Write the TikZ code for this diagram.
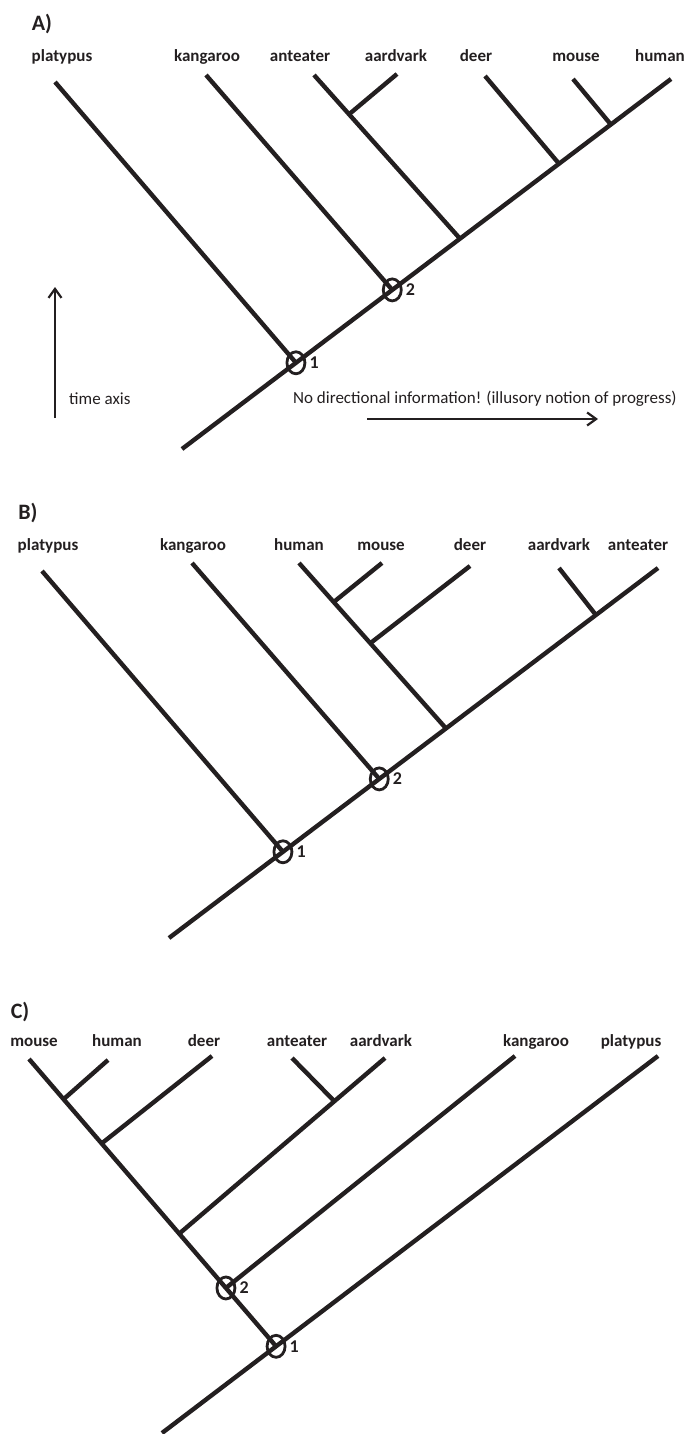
\documentclass[tikz,border=0pt]{standalone}
\usepackage{fontspec}
\setmainfont{Carlito}
\usepackage{tikz}
\usetikzlibrary{positioning, arrows.meta, shapes.geometric, calc}
\definecolor{treeInk}{RGB}{35,31,32}

\tikzset{
  branch/.style={line width=4.4pt, treeInk},
  taxon/.style={font=\bfseries\fontsize{17}{20}\selectfont, text=treeInk, inner sep=0pt, anchor=base},
  panel/.style={font=\bfseries\fontsize{22}{26}\selectfont, text=treeInk, inner sep=0pt},
  splitring/.style={ellipse, draw=treeInk, line width=2.8pt, minimum width=18pt, minimum height=22pt, inner sep=0pt},
  ringlbl/.style={font=\bfseries\fontsize{18}{20}\selectfont, text=treeInk, inner sep=0pt},
  note/.style={font=\fontsize{17}{20}\selectfont, text=treeInk, inner sep=0pt, anchor=west},
  axisarrow/.style={line width=2.2pt, treeInk, -{Straight Barb[length=9pt, width=13pt, line width=2.2pt]}}
}

\begin{document}
\begin{tikzpicture}[x=1pt, y=-1pt]
\useasboundingbox (0,0) rectangle (692,1434);

% ---------- A) ----------
\node[panel] (A-lbl) at (42,24) {A)};
\node[taxon] (A-platypus) at (62,62) {platypus};
\node[taxon] (A-kangaroo) at (207,62) {kangaroo};
\node[taxon] (A-anteater) at (300,62) {anteater};
\node[taxon] (A-aardvark) at (396,62) {aardvark};
\node[taxon] (A-deer) at (476,62) {deer};
\node[taxon] (A-mouse) at (576,62) {mouse};
\node[taxon] (A-human) at (660,62) {human};
% tips
\coordinate (A-t1) at (55,82);
\coordinate (A-t2) at (206,75);
\coordinate (A-t3) at (314,75);
\coordinate (A-t4) at (397,74);
\coordinate (A-t5) at (485,76);
\coordinate (A-t6) at (573,79);
\coordinate (A-t7) at (671,79);
\coordinate (A-root) at (182,449);
% splits along the stem
\coordinate (A-n1) at ($(A-root)!0.233!(A-t7)$);
\coordinate (A-n2) at ($(A-root)!0.43!(A-t7)$);
\coordinate (A-j1) at ($(A-root)!0.5685!(A-t7)$);
\coordinate (A-j2) at ($(A-root)!0.771!(A-t7)$);
\coordinate (A-j3) at ($(A-root)!0.877!(A-t7)$);
\coordinate (A-j4) at ($(A-t3)!0.24!(A-j1)$);
\draw[branch] (A-root) -- (A-t7);
\draw[branch] (A-t1) -- (A-n1);
\draw[branch] (A-t2) -- (A-n2);
\draw[branch] (A-t3) -- (A-j1);
\draw[branch] (A-t4) -- (A-j4);
\draw[branch] (A-t5) -- (A-j2);
\draw[branch] (A-t6) -- (A-j3);
\node[splitring] (A-r1) at (A-n1) {};
\node[splitring] (A-r2) at (A-n2) {};
\node[ringlbl, right=3pt of A-r1] (A-l1) {1};
\node[ringlbl, right=3pt of A-r2] (A-l2) {2};
% axes
\coordinate (time0) at (55,418);
\coordinate (time1) at (55,287);
\draw[axisarrow] (time0) -- (time1);
\node[note] (timetxt) at (69,399) {time axis};
\node[note] (progtxt) at (293,399) {No directional information! (illusory notion of progress)};
\coordinate (prog0) at (367,419);
\coordinate (prog1) at (598,419);
\draw[axisarrow] (prog0) -- (prog1);

% ---------- B) ----------
\node[panel] (B-lbl) at (28,513) {B)};
\node[taxon] (B-platypus) at (48,550) {platypus};
\node[taxon] (B-kangaroo) at (193,550) {kangaroo};
\node[taxon] (B-human) at (299,550) {human};
\node[taxon] (B-mouse) at (381,550) {mouse};
\node[taxon] (B-deer) at (470,550) {deer};
\node[taxon] (B-aardvark) at (559,550) {aardvark};
\node[taxon] (B-anteater) at (638,550) {anteater};
\coordinate (B-t1) at (42,571);
\coordinate (B-t2) at (192,563);
\coordinate (B-t3) at (299,563);
\coordinate (B-t4) at (382,563);
\coordinate (B-t5) at (470,566);
\coordinate (B-t6) at (559,568);
\coordinate (B-t7) at (658,568);
\coordinate (B-root) at (169,938);
\coordinate (B-n1) at ($(B-root)!0.233!(B-t7)$);
\coordinate (B-n2) at ($(B-root)!0.43!(B-t7)$);
\coordinate (B-j1) at ($(B-root)!0.5665!(B-t7)$);
\coordinate (B-j2) at ($(B-root)!0.873!(B-t7)$);
\coordinate (B-j3) at ($(B-t3)!0.236!(B-j1)$);
\coordinate (B-j4) at ($(B-t3)!0.485!(B-j1)$);
\draw[branch] (B-root) -- (B-t7);
\draw[branch] (B-t1) -- (B-n1);
\draw[branch] (B-t2) -- (B-n2);
\draw[branch] (B-t3) -- (B-j1);
\draw[branch] (B-t4) -- (B-j3);
\draw[branch] (B-t5) -- (B-j4);
\draw[branch] (B-t6) -- (B-j2);
\node[splitring] (B-r1) at (B-n1) {};
\node[splitring] (B-r2) at (B-n2) {};
\node[ringlbl, right=3pt of B-r1] (B-l1) {1};
\node[ringlbl, right=3pt of B-r2] (B-l2) {2};

% ---------- C) ----------
\node[panel] (C-lbl) at (20,1012) {C)};
\node[taxon] (C-mouse) at (34,1046) {mouse};
\node[taxon] (C-human) at (117,1046) {human};
\node[taxon] (C-deer) at (204,1046) {deer};
\node[taxon] (C-anteater) at (297,1046) {anteater};
\node[taxon] (C-aardvark) at (381,1046) {aardvark};
\node[taxon] (C-kangaroo) at (536,1046) {kangaroo};
\node[taxon] (C-platypus) at (631,1046) {platypus};
\coordinate (C-t1) at (29,1059);
\coordinate (C-t2) at (108,1060);
\coordinate (C-t3) at (212,1056);
\coordinate (C-t4) at (292,1058);
\coordinate (C-t5) at (385,1058);
\coordinate (C-t6) at (515,1056);
\coordinate (C-t7) at (658,1056);
\coordinate (C-root) at (162,1433);
\coordinate (C-n1) at ($(C-root)!0.23!(C-t7)$);
\coordinate (C-n2) at ($(C-t1)!0.797!(C-n1)$);
\coordinate (C-j1) at ($(C-t1)!0.14!(C-n1)$);
\coordinate (C-j2) at ($(C-t1)!0.294!(C-n1)$);
\coordinate (C-j3) at ($(C-t1)!0.608!(C-n1)$);
\coordinate (C-j4) at ($(C-t5)!0.246!(C-j3)$);
\draw[branch] (C-root) -- (C-t7);
\draw[branch] (C-t1) -- (C-n1);
\draw[branch] (C-t2) -- (C-j1);
\draw[branch] (C-t3) -- (C-j2);
\draw[branch] (C-t5) -- (C-j3);
\draw[branch] (C-t4) -- (C-j4);
\draw[branch] (C-t6) -- (C-n2);
\node[splitring] (C-r1) at (C-n1) {};
\node[splitring] (C-r2) at (C-n2) {};
\node[ringlbl, right=3pt of C-r1] (C-l1) {1};
\node[ringlbl, right=3pt of C-r2] (C-l2) {2};
\end{tikzpicture}
\end{document}
